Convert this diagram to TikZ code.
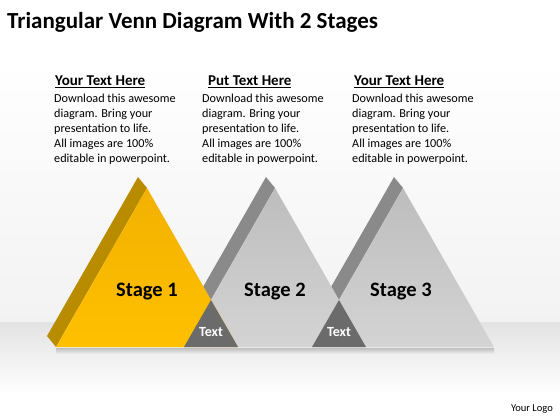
\documentclass[tikz,border=0pt]{standalone}
\usepackage{fontspec}
\setmainfont{Carlito}
\definecolor{yfront}{HTML}{FFC000}
\definecolor{yfronttop}{HTML}{F2B100}
\definecolor{yside}{HTML}{B98C00}
\definecolor{gfront}{HTML}{D4D4D4}
\definecolor{gfronttop}{HTML}{BDBDBD}
\definecolor{gside}{HTML}{8A8A8A}
\definecolor{gdark}{HTML}{6B6B6B}
\begin{document}
\begin{tikzpicture}[x=1pt,y=-1pt,
  heading/.style={anchor=base west, inner sep=0, font=\fontsize{15}{17}\selectfont\bfseries},
  body/.style={anchor=north west, inner sep=0, align=left, font=\fontsize{12.2}{15}\selectfont},
  stagelbl/.style={font=\fontsize{20.5}{24}\selectfont\bfseries, text=black},
  overlbl/.style={font=\fontsize{14}{16}\selectfont\bfseries, text=white},
  yface/.style={top color=yfronttop, bottom color=yfront},
  gface/.style={top color=gfronttop, bottom color=gfront},
  yedge/.style={fill=yside},
  gedge/.style={fill=gside}]
\useasboundingbox (0,0) rectangle (560,420);
% background
\fill[white] (0,0) rectangle (560,420);
\shade[top color=white, bottom color=gray!10] (0,60) rectangle (560,322);
\shade[top color=gray!22, bottom color=white] (0,322) rectangle (560,395);
\shade[top color=gray!50, bottom color=gray!12] (56,348) rectangle (494,354);
% title
\node[anchor=base west, inner sep=0, font=\fontsize{23}{27}\selectfont\bfseries] (title) at (7,29) {Triangular Venn Diagram With 2 Stages};
% text columns
\node[heading] (h1) at (55,86) {\underline{Your Text Here}};
\node[heading] (h2) at (208,86) {\underline{Put Text Here}};
\node[heading] (h3) at (354,86) {\underline{Your Text Here}};
\node[body] (b1) at (54,93.5) {Download this awesome\\diagram. Bring your\\presentation to life.\\All images are 100\%\\editable in powerpoint.};
\node[body] (b2) at (202,93.5) {Download this awesome\\diagram. Bring your\\presentation to life.\\All images are 100\%\\editable in powerpoint.};
\node[body] (b3) at (352,93.5) {Download this awesome\\diagram. Bring your\\presentation to life.\\All images are 100\%\\editable in powerpoint.};
% triangle 3 (back)
\fill[gedge] (394,177) -- (403,188) -- (312,347) -- (303,336) -- cycle;
\shade[gface] (403,188) -- (494,347) -- (312,347) -- cycle;
% triangle 2
\fill[gedge] (266,177) -- (275,188) -- (184,347) -- (175,336) -- cycle;
\shade[gface] (275,188) -- (366,347) -- (184,347) -- cycle;
% triangle 1 (front)
\fill[yedge] (138,177) -- (147,188) -- (56,347) -- (47,336) -- cycle;
\shade[yface] (147,188) -- (238,347) -- (56,347) -- cycle;
% overlaps
\fill[gdark] (184,347) -- (211,300) -- (238,347) -- cycle;
\fill[gdark] (312,347) -- (339,300) -- (366,347) -- cycle;
% labels
\node[stagelbl] (s1) at (147,292) {Stage 1};
\node[stagelbl] (s2) at (275,292) {Stage 2};
\node[stagelbl] (s3) at (401,292) {Stage 3};
\node[overlbl] (t1) at (211,332) {Text};
\node[overlbl] (t2) at (339,332) {Text};
\node[anchor=base east, inner sep=0, font=\fontsize{10.5}{12}\selectfont] (logo) at (553,411) {Your Logo};
\end{tikzpicture}
\end{document}
